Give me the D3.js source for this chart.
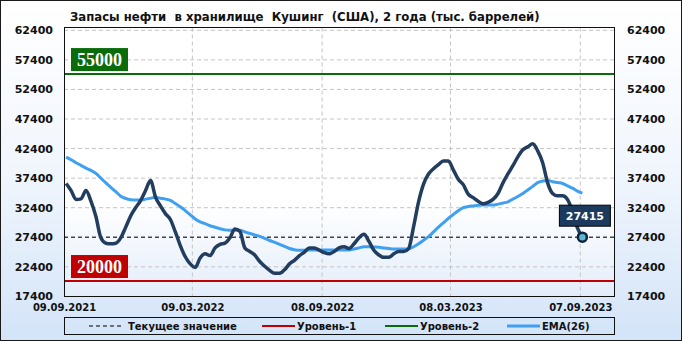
<!doctype html>
<html>

<head>
  <meta charset="utf-8">
  <title>Cushing stocks</title>
  <style>
    body { margin: 0; }
    #chart { width: 682px; height: 341px; }
    text { font-family: 'DejaVu Sans', sans-serif; font-weight: bold; fill: #111; }
  </style>
</head>

<body>
  <div id="chart"></div>
  <script src="https://cdn.jsdelivr.net/npm/d3@7"></script>
  <script>
    // weekly stocks, thousand barrels
    const firstWeek = new Date(2021, 8, 12);
    const stocks = [
      36500, 35300, 33800, 33900, 35300, 33500, 30900, 27300, 26400, 26300,
      26400, 27300, 29100, 31000, 32400, 33600, 35300, 37000, 34200, 32700,
      31400, 30400, 28300, 26000, 24100, 22900, 22300, 23900, 24600, 24300,
      25600, 26200, 26400, 27300, 28800, 28400, 25600, 25000, 24400, 23300,
      22500, 21800, 21300, 21300, 21900, 22900, 23500, 24300, 24900, 25600,
      25600, 25200, 24800, 24600, 25000, 25600, 25800, 25500, 26300, 27300,
      27900, 26700, 25200, 24400, 24000, 24000, 24600, 25000, 25000, 25500,
      29200, 33400, 36400, 38100, 39000, 39700, 40300, 40300, 38800, 37200,
      36300, 34700, 34100, 33500, 33050, 33300, 33800, 34800, 36600, 38100,
      39500, 41000, 42200, 42700, 43200, 42000, 40000, 36600, 34800, 34400,
      34400, 33800, 31800, 29000, 27415
    ];
    const ema26 = [
      40950, 40500, 40000, 39550, 39100, 38700, 38200, 37400, 36600, 35850,
      35100, 34350, 33950, 33750, 33700, 33700, 33850, 34000, 34150, 34000,
      33850, 33650, 33100, 32570, 31900, 31200, 30500, 30000, 29700, 29350,
      29100, 28850, 28650, 28600, 28600, 28600, 28300, 28050, 27800, 27550,
      27200, 26850, 26550, 26200, 25850, 25500, 25300, 25200, 25200, 25250,
      25250, 25250, 25250, 25250, 25250, 25250, 25250, 25250, 25400, 25600,
      25800, 25800, 25750, 25700, 25600, 25500, 25400, 25400, 25400, 25450,
      25800, 26300, 26900, 27500, 28300, 29100, 29850, 30600, 31250, 31900,
      32400, 32600, 32700, 32800, 32850, 32850, 32850, 33000, 33200, 33400,
      33850, 34300, 34800, 35400, 36000, 36650, 36900, 37000, 36800, 36650,
      36500, 36100, 35700, 35200, 34850
    ];
    const yTicks = [17400, 22400, 27400, 32400, 37400, 42400, 47400, 52400, 57400, 62400];
    const xTickLabels = ['09.09.2021', '09.03.2022', '08.09.2022', '08.03.2023', '07.09.2023'];
    const levelValues = [20000, 55000];
    const levelColors = ['#c00000', '#0a6b0a'];
    const legendLabels = ['Текущее значение', 'Уровень-1', 'Уровень-2', 'EMA(26)'];
    const title = 'Запасы нефти  в хранилище  Кушинг  (США), 2 года (тыс. баррелей)';

    const width = 682;
    const height = 341;
    const plot = { left: 64, right: 615, top: 27.5, bottom: 296.5 };

    const parseDay = d3.timeParse('%d.%m.%Y');
    const dates = stocks.map((d, i) => d3.timeWeek.offset(firstWeek, i));

    const x = d3.scaleTime()
      .domain([parseDay('09.09.2021'), parseDay('26.10.2023')])
      .range([plot.left, plot.right]);
    const y = d3.scaleLinear()
      .domain([17400, 62400])
      .range([296.4, 30.3]);

    const svg = d3.select('#chart').append('svg')
      .attr('width', width)
      .attr('height', height);

    const defs = svg.append('defs');
    const bgGrad = defs.append('linearGradient').attr('id', 'bg')
      .attr('x1', 0).attr('y1', 0).attr('x2', 0).attr('y2', 1);
    bgGrad.append('stop').attr('offset', '0%').attr('stop-color', '#ffffff');
    bgGrad.append('stop').attr('offset', '50%').attr('stop-color', '#f1f6fd');
    bgGrad.append('stop').attr('offset', '100%').attr('stop-color', '#d3e4f8');
    const plotGrad = defs.append('linearGradient').attr('id', 'plotbg')
      .attr('x1', 0).attr('y1', 0).attr('x2', 0).attr('y2', 1);
    plotGrad.append('stop').attr('offset', '0%').attr('stop-color', '#ffffff');
    plotGrad.append('stop').attr('offset', '65%').attr('stop-color', '#ffffff');
    plotGrad.append('stop').attr('offset', '100%').attr('stop-color', '#e3edfa');
    defs.append('clipPath').attr('id', 'clip')
      .append('rect')
      .attr('x', plot.left).attr('y', plot.top)
      .attr('width', plot.right - plot.left).attr('height', plot.bottom - plot.top);

    svg.append('rect')
      .attr('x', 0.5).attr('y', 0.5)
      .attr('width', width - 1).attr('height', height - 1)
      .attr('fill', 'url(#bg)')
      .attr('stroke', '#1a1a1a');

    svg.append('rect')
      .attr('x', plot.left).attr('y', plot.top)
      .attr('width', plot.right - plot.left).attr('height', plot.bottom - plot.top)
      .attr('fill', 'url(#plotbg)');

    // title
    svg.append('text')
      .attr('x', 70).attr('y', 21)
      .style('white-space', 'pre')
      .style('font-size', '11.7px')
      .text(title);

    // grid
    const grid = svg.append('g').attr('clip-path', 'url(#clip)');
    grid.selectAll('.hgrid')
      .data(yTicks.slice(1))
      .join('line')
      .attr('x1', plot.left).attr('x2', plot.right)
      .attr('y1', d => y(d)).attr('y2', d => y(d))
      .attr('stroke', '#c4c4c4')
      .attr('stroke-dasharray', '4,3');
    grid.selectAll('.vgrid')
      .data(xTickLabels.slice(1))
      .join('line')
      .attr('x1', d => x(parseDay(d))).attr('x2', d => x(parseDay(d)))
      .attr('y1', plot.top).attr('y2', plot.bottom)
      .attr('stroke', '#c4c4c4')
      .attr('stroke-dasharray', '4,3');

    // y labels both sides
    const yLeft = d3.axisLeft(y).tickValues(yTicks).tickFormat(d3.format('d')).tickSize(0).tickPadding(0);
    const yRight = d3.axisRight(y).tickValues(yTicks).tickFormat(d3.format('d')).tickSize(0).tickPadding(0);
    svg.append('g').attr('transform', 'translate(53,0)').call(yLeft)
      .call(g => g.select('.domain').remove());
    svg.append('g').attr('transform', 'translate(627,0)').call(yRight)
      .call(g => g.select('.domain').remove());
    svg.selectAll('.tick text')
      .attr('font-family', null).attr('fill', null)
      .style('font-size', '11px');

    // x labels
    const xAxis = d3.axisBottom(x)
      .tickValues(xTickLabels.map(parseDay))
      .tickFormat(d3.timeFormat('%d.%m.%Y'))
      .tickSize(0).tickPadding(0);
    svg.append('g').attr('transform', 'translate(0,304)').call(xAxis)
      .call(g => g.select('.domain').remove())
      .selectAll('text')
      .attr('font-family', null).attr('fill', null)
      .style('font-size', '10px');

    const layer = svg.append('g').attr('clip-path', 'url(#clip)');

    // levels
    layer.selectAll('.level')
      .data(levelValues)
      .join('line')
      .attr('x1', plot.left).attr('x2', plot.right)
      .attr('y1', d => y(d)).attr('y2', d => y(d))
      .attr('stroke', (d, i) => levelColors[i])
      .attr('stroke-width', 2);

    // current value
    const last = stocks[stocks.length - 1];
    layer.append('line')
      .attr('x1', plot.left).attr('x2', plot.right)
      .attr('y1', y(last)).attr('y2', y(last))
      .attr('stroke', '#000')
      .attr('stroke-dasharray', '4,3');

    const line = d3.line()
      .x((d, i) => x(dates[i]))
      .y(d => y(d))
      .curve(d3.curveMonotoneX);

    layer.append('path')
      .datum(ema26)
      .attr('d', line)
      .attr('fill', 'none')
      .attr('stroke', '#3fa0f2')
      .attr('stroke-width', 3);

    layer.append('path')
      .datum(stocks)
      .attr('d', line)
      .attr('fill', 'none')
      .attr('stroke', '#223d5e')
      .attr('stroke-width', 3.5)
      .attr('stroke-linejoin', 'round');

    // level badges
    levelValues.forEach((v, i) => {
      svg.append('rect')
        .attr('x', 71).attr('y', y(v) - 26)
        .attr('width', 57).attr('height', 23)
        .attr('fill', levelColors[i]);
      svg.append('text')
        .attr('x', 99.5).attr('y', y(v) - 8.5)
        .attr('text-anchor', 'middle')
        .style('font-family', "'Liberation Serif', serif")
        .style('font-size', '18px')
        .style('fill', '#fff')
        .text(v);
    });

    // last value marker
    const lx = x(dates[dates.length - 1]);
    const ly = y(last);
    svg.append('circle')
      .attr('cx', lx).attr('cy', ly).attr('r', 4.5)
      .attr('fill', '#5ab7cf')
      .attr('stroke', '#0f2340')
      .attr('stroke-width', 2.5);
    svg.append('rect')
      .attr('x', lx - 23).attr('y', ly - 32)
      .attr('width', 51).attr('height', 21)
      .attr('fill', '#1c3a5e')
      .attr('stroke', '#000');
    svg.append('text')
      .attr('x', lx + 2.5).attr('y', ly - 17)
      .attr('text-anchor', 'middle')
      .style('font-size', '11px')
      .style('fill', '#fff')
      .text(last);

    // frame
    svg.append('rect')
      .attr('x', plot.left + 0.5).attr('y', plot.top)
      .attr('width', plot.right - plot.left - 1).attr('height', plot.bottom - plot.top)
      .attr('fill', 'none')
      .attr('stroke', '#111');

    // legend
    const legend = svg.append('g');
    legend.append('rect')
      .attr('x', 64.5).attr('y', 317.5)
      .attr('width', 550).attr('height', 17)
      .attr('fill', 'none')
      .attr('stroke', '#111');
    const legendX = [89, 262, 385, 507];
    const legendStroke = ['#000', levelColors[0], levelColors[1], '#3fa0f2'];
    legendLabels.forEach((label, i) => {
      legend.append('line')
        .attr('x1', legendX[i]).attr('x2', legendX[i] + 33)
        .attr('y1', 326).attr('y2', 326)
        .attr('stroke', legendStroke[i])
        .attr('stroke-width', i === 0 ? 1 : (i === 3 ? 3 : 2))
        .attr('stroke-dasharray', i === 0 ? '4,3' : null);
      legend.append('text')
        .attr('x', legendX[i] + (i === 0 ? 39 : 35)).attr('y', 330)
        .style('font-size', '10px')
        .text(label);
    });
  </script>
</body>

</html>
